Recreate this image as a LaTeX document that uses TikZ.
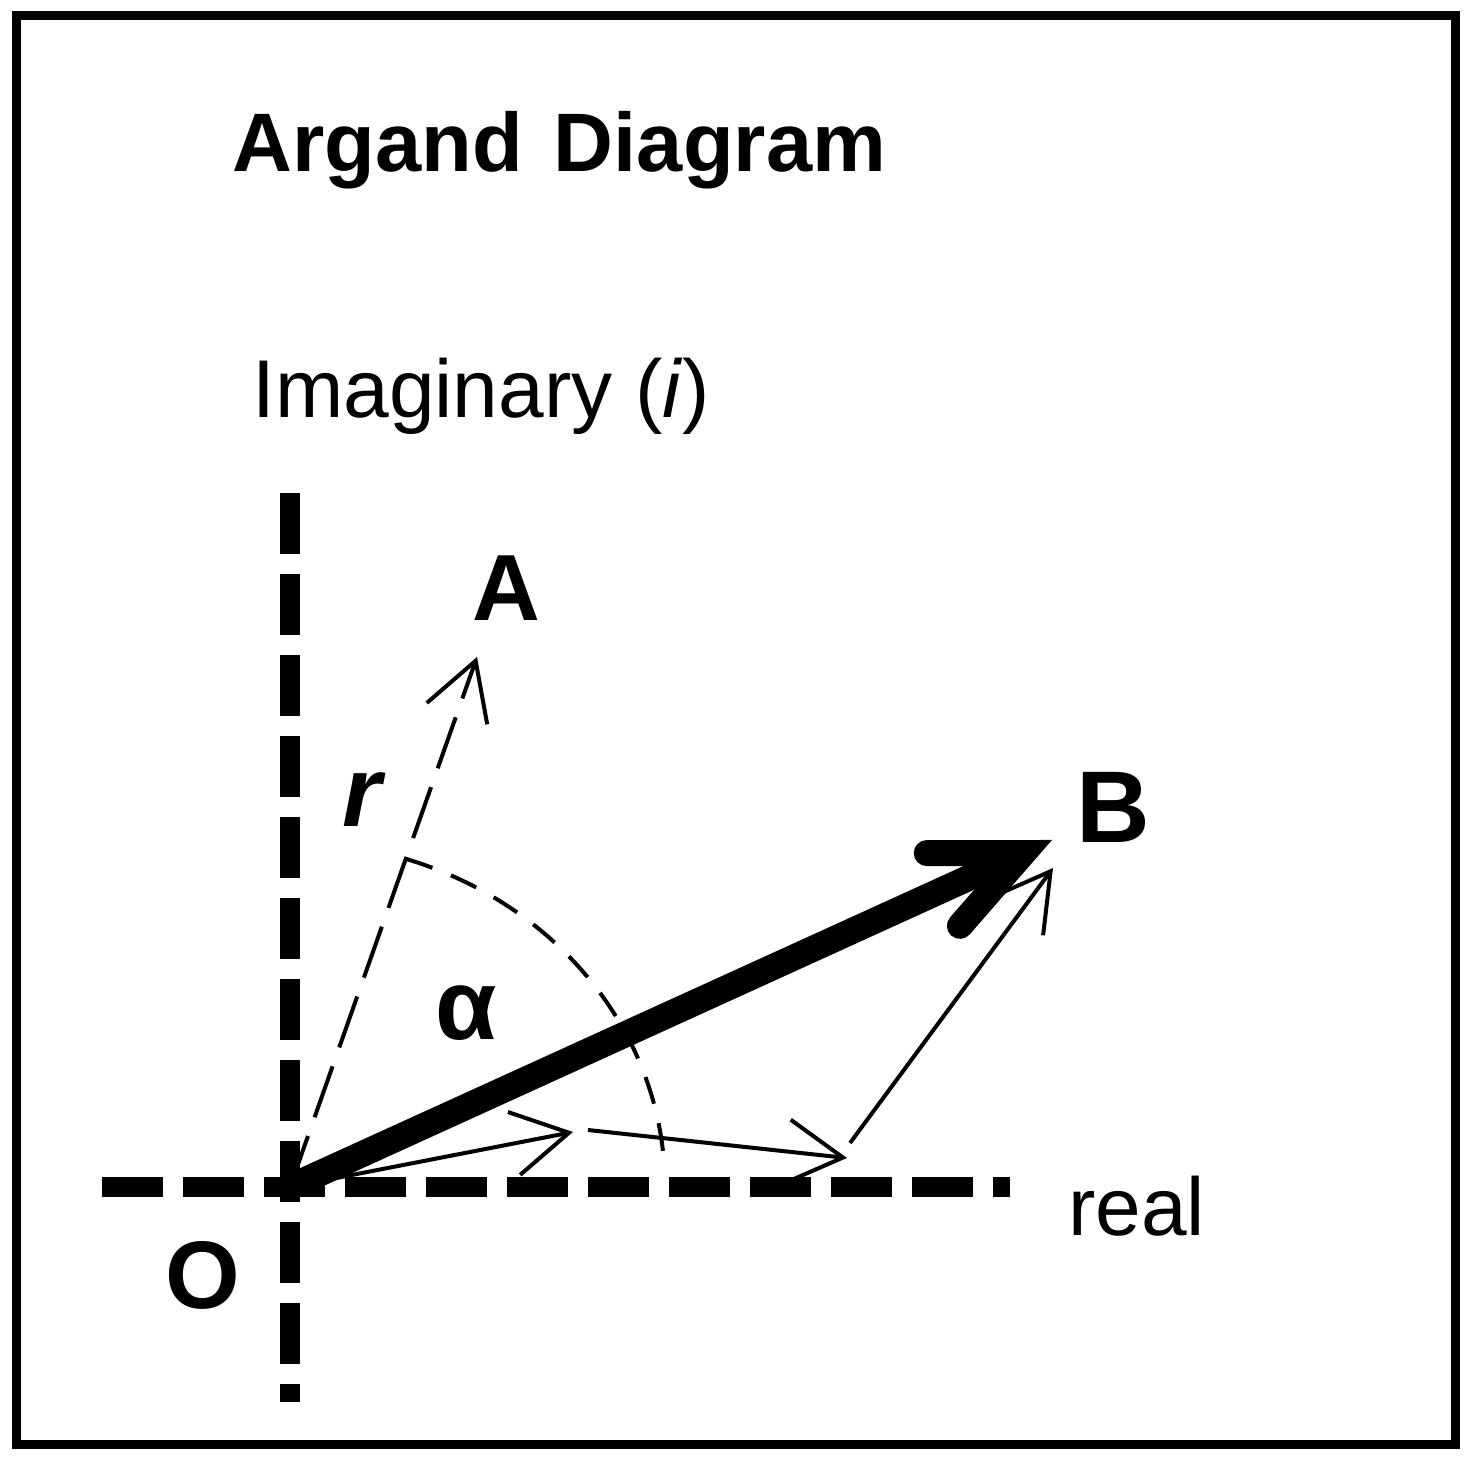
\documentclass[tikz,border=0pt]{standalone}
\usepackage{fontspec}
\setmainfont{Liberation Sans}
\usetikzlibrary{arrows.meta}

\begin{document}
\begin{tikzpicture}[x=0.5pt,y=0.5pt,
    axis/.style={line width=10pt,dash pattern=on 30.5pt off 10pt},
    thinvec/.style={line width=2pt,-{Straight Barb[length=28pt,width=32pt]}},
    bigvec/.style={line width=13pt,-{Straight Barb[length=44pt,width=40pt,line cap=round]}},
    lbl/.style={inner sep=0pt,anchor=base west,font=\fontsize{41}{41}\selectfont},
    letter/.style={inner sep=0pt,anchor=base west,font=\bfseries\fontsize{#1}{#1}\selectfont}]
      \useasboundingbox (-290,-283) rectangle (1180,1187);
      \draw[line width=4.5pt] (-273,-257) rectangle (1165,1171);
      \coordinate (O) at (0,0);
      \coordinate (xl) at (-188,0);
      \coordinate (xr) at (720,0);
      \coordinate (yt) at (0,694);
      \coordinate (yb) at (0,-215);
      \coordinate (A) at (187,530);
      \coordinate (B) at (762,347);
      \coordinate (p1) at (283,55);
      \coordinate (q1) at (298,57);
      \coordinate (p2) at (557,29);
      \coordinate (q2) at (560,44);
      \coordinate (p3) at (763,319);
      \draw[axis] (xl) -- (xr);
      \draw[axis] (yt) -- (yb);
      \draw[thinvec,dash pattern=on 27pt off 10pt] (O) -- (A);
      \draw[line width=2pt,dash pattern=on 14pt off 10pt]
        (O) ++(72:375 and 345) arc[start angle=72,end angle=3,x radius=375,y radius=345];
      \draw[thinvec] (O) -- (p1);
      \draw[thinvec] (q1) -- (p2);
      \draw[thinvec] (q2) -- (p3);
      \draw[bigvec] (O) -- (B);
      \node[lbl,font=\bfseries\fontsize{41.5}{42}\selectfont] (title) at (-58,1015) {Argand \hspace{4pt}Diagram};
      \node[lbl] (imag) at (-38,769) {Imaginary (\textit{i})};
      \node[lbl] (real) at (778,-48) {real};
      \node[letter=48] (o) at (-125,-121) {O};
      \node[letter=47] (a) at (182,566) {A};
      \node[letter=51] (b) at (786,344) {B};
      \node[letter=50] (r) at (52,360) {\itshape r};
      \node[letter=50] (alpha) at (145,147) {α};
\end{tikzpicture}
\end{document}
